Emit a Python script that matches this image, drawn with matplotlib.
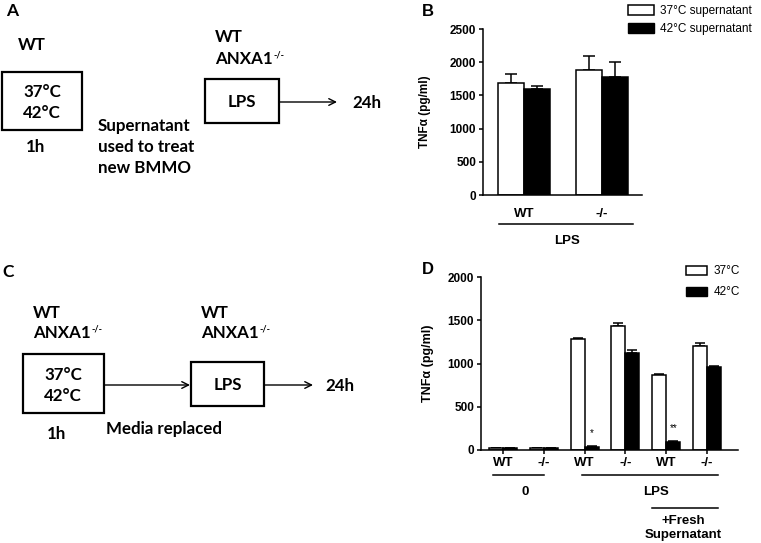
import matplotlib
matplotlib.use("Agg")
from matplotlib import pyplot as plt
from matplotlib.patches import Rectangle, Patch
import numpy as np

# panel B data
b_groups = ["WT", "-/-"]
b_37 = [1680, 1876]
b_37_err = [136, 222]
b_42 = [1590, 1776]
b_42_err = [45, 231]

# panel D data
d_groups = ["WT", "-/-", "WT", "-/-", "WT", "-/-"]
d_37 = [20, 20, 1286, 1436, 865, 1197]
d_37_err = [3, 3, 10, 31, 11, 35]
d_42 = [20, 20, 39, 1124, 97, 965]
d_42_err = [2, 2, 3, 27, 4, 8]

W, H = 761, 543
fig = plt.figure(figsize=(W / 100, H / 100), dpi=100)

# overlay axes in pixel coordinates for the schematic panels
ov = fig.add_axes([0, 0, 1, 1])
ov.set_xlim(0, W)
ov.set_ylim(H, 0)
ov.axis("off")

dfont = dict(family=["Lato", "DejaVu Sans"], weight="bold", fontsize=12.2)
cfont = dict(family=["Liberation Sans", "DejaVu Sans"], weight="bold")


def anxa(x, y):
    t = ov.text(x, y, "ANXA1", va="center", ha="left", **dfont)
    fig.canvas.draw()
    bb = t.get_window_extent()
    ov.text(bb.x1 + 1, H - bb.y1 - 1, "-/-", va="top", ha="left",
            family=["Lato", "DejaVu Sans"], weight="bold", fontsize=6.5)


def box(x0, y0, x1, y1):
    ov.add_patch(Rectangle((x0, y0), x1 - x0, y1 - y0, fill=False, lw=1.6, ec="black"))


def arrow(x0, x1, y):
    ov.annotate("", xy=(x1, y), xytext=(x0, y),
                arrowprops=dict(arrowstyle="->", lw=1.0, color="black",
                                shrinkA=0, shrinkB=0, mutation_scale=12))


# panel letters
ov.text(12, 11, "A", ha="center", va="center", family=["Lato"], weight="bold", fontsize=12.5)
ov.text(8, 272, "C", ha="center", va="center", family=["Lato"], weight="bold", fontsize=12.5)
ov.text(428, 11, "B", ha="center", va="center", **cfont, fontsize=12)
ov.text(428, 270, "D", ha="center", va="center", **cfont, fontsize=12)

# panel A schematic
ov.text(18, 45, "WT", ha="left", va="center", **dfont)
box(2, 72, 82, 130)
ov.text(42, 92, "37°C", ha="center", va="center", **dfont)
ov.text(42, 113, "42°C", ha="center", va="center", **dfont)
ov.text(26, 147, "1h", ha="left", va="center", **dfont)
ov.text(98, 147, "Supernatant\nused to treat\nnew BMMO", ha="left", va="center",
        linespacing=1.35, **dfont)
ov.text(215, 37, "WT", ha="left", va="center", **dfont)
anxa(215, 59)
box(205, 79, 279, 123)
ov.text(242, 102, "LPS", ha="center", va="center", **dfont)
arrow(279, 337, 102)
ov.text(352, 103, "24h", ha="left", va="center", **dfont)

# panel C schematic
ov.text(33, 313, "WT", ha="left", va="center", **dfont)
anxa(33, 333)
box(23, 354, 104, 413)
ov.text(63, 375, "37°C", ha="center", va="center", **dfont)
ov.text(63, 396, "42°C", ha="center", va="center", **dfont)
ov.text(47, 434, "1h", ha="left", va="center", **dfont)
arrow(104, 190, 385)
ov.text(106, 429, "Media replaced", ha="left", va="center", **dfont)
ov.text(201, 313, "WT", ha="left", va="center", **dfont)
anxa(201, 333)
box(191, 362, 264, 406)
ov.text(228, 385, "LPS", ha="center", va="center", **dfont)
arrow(264, 313, 385)
ov.text(325, 386, "24h", ha="left", va="center", **dfont)


def style(ax):
    for s in ["top", "right"]:
        ax.spines[s].set_visible(False)
    for s in ["left", "bottom"]:
        ax.spines[s].set_linewidth(1.1)
    ax.tick_params(axis="y", length=3, width=1.1, labelsize=8.5, pad=2)
    for lab in ax.get_yticklabels():
        lab.set_fontfamily(["Liberation Sans"])
        lab.set_fontweight("bold")


# panel B chart
axb = fig.add_axes([483 / W, 1 - 195 / H, 159 / W, 166 / H])
xb = np.arange(len(b_groups))
wb = 0.335
axb.bar(xb - wb / 2, b_37, wb, color="white", edgecolor="black", lw=1.1, zorder=2)
axb.bar(xb + wb / 2, b_42, wb, color="black", edgecolor="black", lw=1.1, zorder=2)
axb.errorbar(xb - wb / 2, b_37, yerr=[np.zeros(2), b_37_err], fmt="none",
             ecolor="black", elinewidth=1.1, capsize=4.5, capthick=1.1, zorder=1)
axb.errorbar(xb + wb / 2, b_42, yerr=[np.zeros(2), b_42_err], fmt="none",
             ecolor="black", elinewidth=1.1, capsize=4.5, capthick=1.1, zorder=1)
axb.set_xlim(-0.526, 1.513)
axb.set_ylim(0, 2500)
axb.set_yticks([0, 500, 1000, 1500, 2000, 2500])
axb.set_xticks(xb)
axb.set_xticklabels(b_groups, fontsize=9.5, **cfont)
axb.tick_params(axis="x", length=0, pad=9)
style(axb)
fig.text(425 / W, 1 - 112 / H, "TNFα (pg/ml)", rotation=90, ha="center", va="center",
         fontsize=8.5, **cfont)
tb = axb.get_xaxis_transform()
axb.plot([-0.32, 1.40], [-0.175, -0.175], color="black", lw=1.1, transform=tb, clip_on=False)
axb.text(0.55, -0.28, "LPS", transform=tb, ha="center", va="center", fontsize=9.5, **cfont)
axb.legend([Patch(fc="white", ec="black", lw=1.1), Patch(fc="black", ec="black")],
           ["37°C supernatant", "42°C supernatant"], loc="upper left",
           bbox_to_anchor=(619 / W, 1 + 4 / H), bbox_transform=fig.transFigure,
           frameon=False, handlelength=2.2, handleheight=0.9, handletextpad=0.45,
           labelspacing=0.5, borderpad=0.3, prop=dict(family="Liberation Sans", size=8.5))

# panel D chart
axd = fig.add_axes([481 / W, 1 - 450 / H, 257 / W, 173 / H])
xd = np.arange(len(d_groups))
wd = 0.345
axd.bar(xd - wd / 2, d_37, wd, color="white", edgecolor="black", lw=1.1, zorder=2)
axd.bar(xd + wd / 2, d_42, wd, color="black", edgecolor="black", lw=1.1, zorder=2)
axd.errorbar(xd - wd / 2, d_37, yerr=[np.zeros(6), d_37_err], fmt="none",
             ecolor="black", elinewidth=1.1, capsize=3.5, capthick=1.1, zorder=1)
axd.errorbar(xd + wd / 2, d_42, yerr=[np.zeros(6), d_42_err], fmt="none",
             ecolor="black", elinewidth=1.1, capsize=3.5, capthick=1.1, zorder=1)
axd.set_xlim(-0.54, 5.76)
axd.set_ylim(0, 2000)
axd.set_yticks([0, 500, 1000, 1500, 2000])
axd.set_xticks(xd)
axd.set_xticklabels(d_groups, fontsize=9.5, **cfont)
axd.tick_params(axis="x", length=3, width=1.1, pad=2)
style(axd)
fig.text(428 / W, 1 - 363 / H, "TNFα (pg/ml)", rotation=90, ha="center", va="center",
         fontsize=9, **cfont)
axd.annotate("*", (2 + wd / 2, d_42[2]), xytext=(0, 6), textcoords="offset points",
             ha="center", va="bottom", fontsize=7, family="Liberation Sans")
axd.annotate("**", (4 + wd / 2, d_42[4]), xytext=(0, 6), textcoords="offset points",
             ha="center", va="bottom", fontsize=7, family="Liberation Sans")
td = axd.get_xaxis_transform()
axd.plot([-0.25, 1.0], [-0.145, -0.145], color="black", lw=1.1, transform=td, clip_on=False)
axd.plot([1.94, 5.27], [-0.145, -0.145], color="black", lw=1.1, transform=td, clip_on=False)
axd.plot([3.65, 5.27], [-0.335, -0.335], color="black", lw=1.1, transform=td, clip_on=False)
axd.text(0.54, -0.243, "0", transform=td, ha="center", va="center", fontsize=9.5, **cfont)
axd.text(3.75, -0.243, "LPS", transform=td, ha="center", va="center", fontsize=9.5, **cfont)
axd.text(4.41, -0.45, "+Fresh\nSupernatant", transform=td, ha="center", va="center",
         fontsize=9.5, linespacing=1.2, **cfont)
axd.legend([Patch(fc="white", ec="black", lw=1.1), Patch(fc="black", ec="black")],
           ["37°C", "42°C"], loc="upper left",
           bbox_to_anchor=(677 / W, 1 - 256 / H), bbox_transform=fig.transFigure,
           frameon=False, handlelength=1.7, handleheight=0.8, handletextpad=0.6,
           labelspacing=0.75, borderpad=0.3, prop=dict(family="Liberation Sans", size=8.5))

fig.savefig("out.png", dpi=100)
